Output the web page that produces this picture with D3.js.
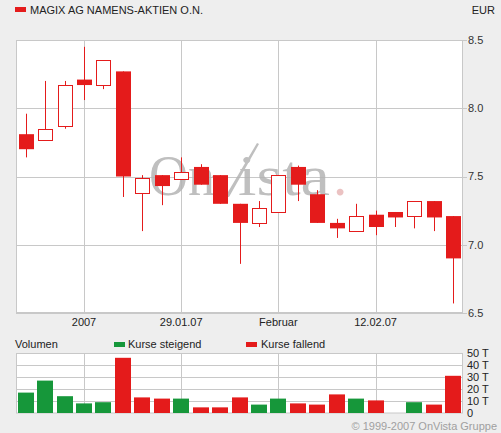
<!DOCTYPE html>
<html><head><meta charset="utf-8">
<script src="https://cdn.jsdelivr.net/npm/d3@7"></script>
<style>
html,body{margin:0;padding:0;background:#eeeeee;}
svg{display:block;font-family:"Liberation Sans",Arial,sans-serif;}
</style></head>
<body>
<svg id="c" width="501" height="433"></svg>
<script>
const title = "MAGIX AG NAMENS-AKTIEN O.N.";
const currency = "EUR";
const openP  = [7.81,7.77,7.87,8.21,8.17,8.27,7.38,7.51,7.48,7.57,7.51,7.30,7.16,7.24,7.57,7.37,7.16,7.10,7.22,7.24,7.21,7.32,7.21];
const highP  = [7.96,8.20,8.20,8.45,8.35,8.27,7.51,7.51,7.64,7.59,7.51,7.30,7.32,7.51,7.58,7.40,7.19,7.30,7.25,7.24,7.32,7.32,7.21];
const lowP   = [7.64,7.77,7.85,8.06,8.14,7.35,7.10,7.29,7.48,7.44,7.30,6.86,7.13,7.24,7.32,7.16,7.05,7.10,7.07,7.13,7.12,7.10,6.57];
const closeP = [7.70,7.85,8.17,8.17,8.35,7.50,7.49,7.43,7.53,7.44,7.30,7.16,7.27,7.51,7.44,7.16,7.12,7.21,7.13,7.20,7.32,7.20,6.90];
const volume = [17,27,14,8,9,46,13,12,12,4.7,4.7,13,7,12,8,7,15.5,12,10.5,0,9,7,31];
const volUp  = [1,1,1,1,1,0,0,0,1,0,0,0,1,1,0,0,0,1,0,0,1,0,0];
const xLabels = [{i:3,t:"2007"},{i:8,t:"29.01.07"},{i:13,t:"Februar"},{i:18,t:"12.02.07"}];
const priceTicks = [6.5,7.0,7.5,8.0,8.5];
const volTicks = [0,10,20,30,40,50];
const legendUp = "Kurse steigend", legendDown = "Kurse fallend", volTitle = "Volumen";
const copyright = "\u00a9 1999-2007 OnVista Gruppe";

const RED = "#e41b1b", GREEN = "#16973a", GRID = "#c8c8c8";
const svg = d3.select("#c");
const idx = d3.range(openP.length);
const x = d3.scaleBand().domain(idx).range([16,463]).padding(0);
const cx = i => x(i) + x.bandwidth()/2;
const y = d3.scaleLinear().domain([6.5,8.5]).range([313,40]);
const yv = d3.scaleLinear().domain([0,50]).range([413,353]);

// header
svg.append("rect").attr("x",15).attr("y",7).attr("width",11).attr("height",5).attr("fill",RED);
svg.append("text").attr("x",30).attr("y",14).attr("font-size",11).attr("fill","#222").text(title);
svg.append("text").attr("x",495).attr("y",14).attr("font-size",11).attr("text-anchor","end").attr("fill","#222").text(currency);

// main panel
svg.append("rect").attr("x",16.5).attr("y",40.5).attr("width",446).attr("height",272).attr("fill","#fff").attr("stroke",GRID);
const g = svg.append("g");
priceTicks.forEach(p=>{
  const yy = Math.round(y(p))+0.5;
  g.append("line").attr("x1",16).attr("x2",467).attr("y1",yy).attr("y2",yy).attr("stroke",GRID);
  svg.append("text").attr("x",468).attr("y",y(p)).attr("dy","0.35em").attr("font-size",11).attr("fill","#333").text(d3.format(".1f")(p));
});
xLabels.forEach(d=>{
  const xx = Math.round(cx(d.i))+0.5;
  g.append("line").attr("x1",xx).attr("x2",xx).attr("y1",40).attr("y2",313).attr("stroke",GRID);
  svg.append("text").attr("x",cx(d.i)).attr("y",326).attr("text-anchor","middle").attr("font-size",11).attr("fill","#222").text(d.t);
});

// watermark
const wmg = svg.append("g").attr("opacity",0.85);
const serif = "'Liberation Serif','Times New Roman',serif";
wmg.append("text").attr("x",149).attr("y",195).attr("font-family",serif).attr("font-size",57)
  .attr("textLength",66).attr("lengthAdjust","spacingAndGlyphs").attr("fill","#b4b4b4").text("On");
wmg.append("path").attr("d","M212,176 L216,175 L228,192 L257,143 L259,144 L229,197 L226,197 Z").attr("fill","#b4b4b4");
const wt = wmg.append("text").attr("x",238).attr("y",195).attr("font-family",serif).attr("font-size",57).attr("fill","#b4b4b4");
wt.append("tspan").attr("textLength",92).attr("lengthAdjust","spacingAndGlyphs").text("ista");
wt.append("tspan").attr("dx",3).attr("fill","#e8b8b8").text(".");

// candles
const bw = 14;
const cg = svg.append("g");
idx.forEach(i=>{
  const c = Math.round(cx(i))+0.5;
  cg.append("line").attr("x1",c).attr("x2",c).attr("y1",y(highP[i])).attr("y2",y(lowP[i])).attr("stroke",RED).attr("stroke-width",1);
  const up = closeP[i] >= openP[i];
  const top = y(Math.max(openP[i],closeP[i])), bot = y(Math.min(openP[i],closeP[i]));
  if (up) {
    cg.append("rect").attr("x",Math.round(cx(i)-bw/2)+0.5).attr("y",Math.round(top)+0.5).attr("width",bw).attr("height",Math.max(1,Math.round(bot-top)))
      .attr("fill","#fff").attr("stroke",RED).attr("stroke-width",1);
  } else {
    cg.append("rect").attr("x",Math.round(cx(i)-bw/2)).attr("y",top).attr("width",bw+1).attr("height",Math.max(1,bot-top)).attr("fill",RED);
  }
});

// volume legend
svg.append("text").attr("x",15).attr("y",348).attr("font-size",11).attr("fill","#222").text(volTitle);
svg.append("rect").attr("x",114).attr("y",342).attr("width",11).attr("height",5).attr("fill",GREEN);
svg.append("text").attr("x",128).attr("y",348).attr("font-size",11).attr("fill","#222").text(legendUp);
svg.append("rect").attr("x",246).attr("y",342).attr("width",11).attr("height",5).attr("fill",RED);
svg.append("text").attr("x",261).attr("y",348).attr("font-size",11).attr("fill","#222").text(legendDown);

// volume panel
svg.append("rect").attr("x",16.5).attr("y",353.5).attr("width",446).attr("height",59.5).attr("fill","#fff").attr("stroke",GRID);
volTicks.forEach(v=>{
  const yy = Math.round(yv(v))+0.5;
  if (v>0) svg.append("line").attr("x1",16).attr("x2",463).attr("y1",yy).attr("y2",yy).attr("stroke",GRID);
  svg.append("text").attr("x",467).attr("y",yv(v)).attr("dy","0.35em").attr("font-size",11).attr("fill","#222").text(v===0?"0":v+" T");
});
xLabels.forEach(d=>{
  const xx = Math.round(cx(d.i))+0.5;
  svg.append("line").attr("x1",xx).attr("x2",xx).attr("y1",353).attr("y2",413).attr("stroke",GRID);
});
const vbw = 16;
svg.append("g").selectAll("rect").data(idx).join("rect")
  .attr("x",i=>Math.round(cx(i)-vbw/2)).attr("width",vbw)
  .attr("y",i=>yv(volume[i])).attr("height",i=>yv(0)-yv(volume[i]))
  .attr("fill",i=>volUp[i]?GREEN:RED);

svg.append("text").attr("x",497).attr("y",430).attr("text-anchor","end").attr("font-size",11).attr("fill","#a0a0a0").text(copyright);
</script>
</body></html>
